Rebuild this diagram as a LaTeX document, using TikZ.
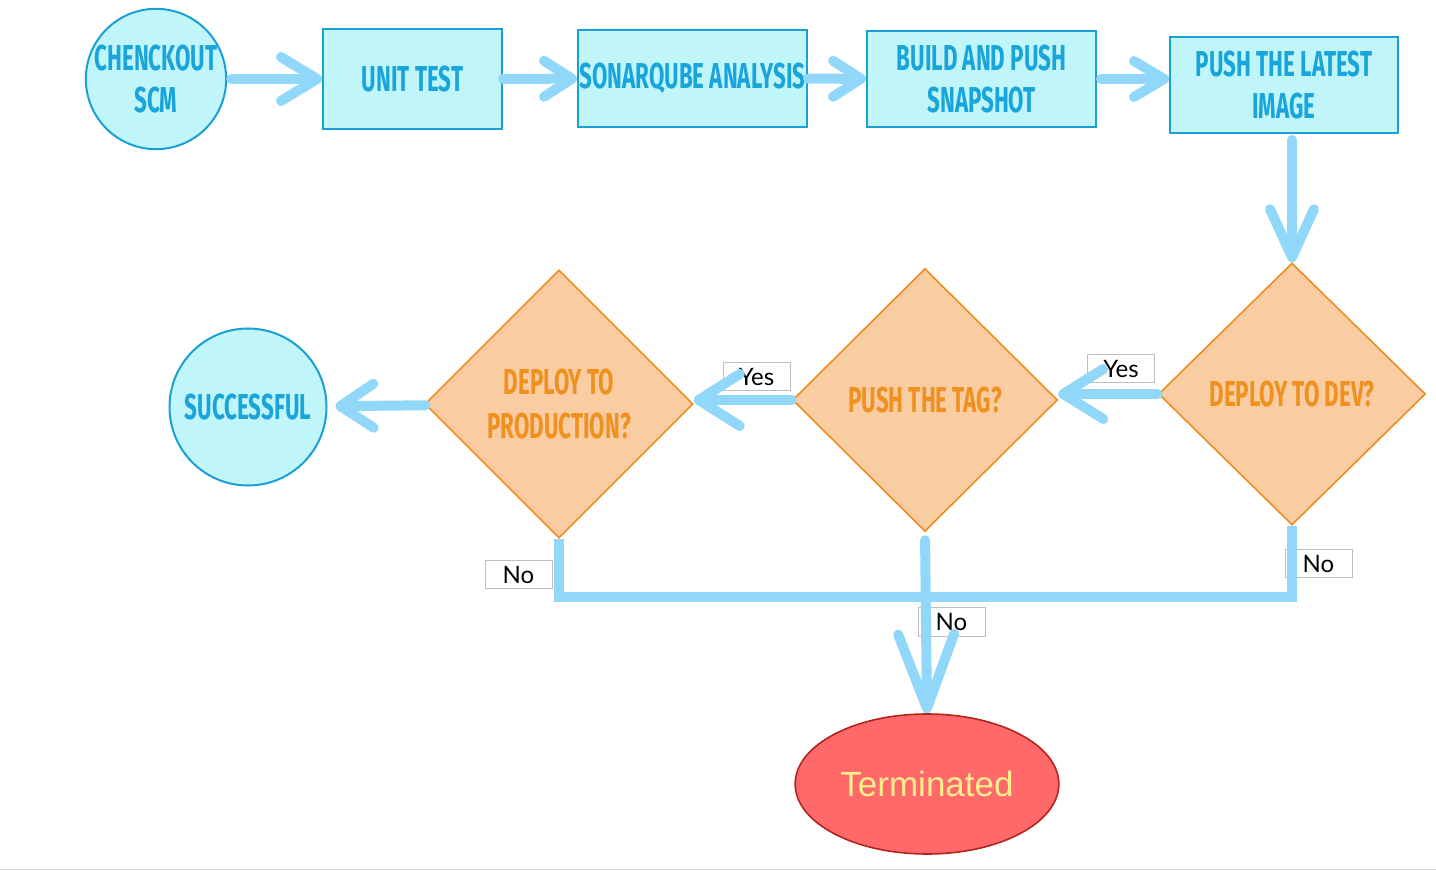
\documentclass[tikz,border=0pt]{standalone}
\usepackage{fontspec}
\usetikzlibrary{shapes.geometric,arrows.meta}

\newfontfamily\capsfont[FakeStretch=0.62]{Fira Sans}
\newfontfamily\tagfont{Lato}
\newfontfamily\endfont{Liberation Sans}

\tikzset{
  stepbox/.style={draw={rgb, 255:red, 27; green, 160; blue, 214}, line width=1pt,
    fill={rgb, 255:red, 192; green, 245; blue, 250}, text={rgb, 255:red, 25; green, 165; blue, 220},
    font=\capsfont\bfseries\fontsize{18}{21}\selectfont, align=center, inner sep=0pt},
  decision/.style={diamond, draw={rgb, 255:red, 240; green, 140; blue, 30}, line width=0.8pt,
    fill={rgb, 255:red, 250; green, 204; blue, 162}, text={rgb, 255:red, 240; green, 144; blue, 30},
    font=\capsfont\bfseries\fontsize{18}{22}\selectfont, align=center, inner sep=0pt},
  answer/.style={draw={rgb, 255:red, 190; green, 190; blue, 190}, line width=0.5pt, fill=white,
    minimum width=33.5pt, minimum height=14pt, inner sep=0pt, font=\tagfont\fontsize{12}{12}\selectfont},
  flow/.style={draw={rgb, 255:red, 145; green, 215; blue, 250}, line width=5pt},
}

\begin{document}
\begin{tikzpicture}[x=0.5pt,y=0.5pt,yscale=-1,xscale=1]
\useasboundingbox (0,0) rectangle (1436,871);

% page edge
\draw [draw={rgb, 255:red, 212; green, 218; blue, 226}] (0,869) -- (1436,869);

% first row
\node [stepbox, circle, minimum size=67pt] (scm) at (156,79) {CHENCKOUT\\SCM};
\node [stepbox, minimum width=89.5pt, minimum height=50pt] (unit) at (412.5,79) {UNIT TEST};
\node [stepbox, minimum width=114.5pt, minimum height=48.5pt] (sonar) at (692.5,78.5) {SONARQUBE ANALYSIS};
\node [stepbox, minimum width=114.5pt, minimum height=48pt] (snap) at (981.5,79) {BUILD AND PUSH\\SNAPSHOT};
\node [stepbox, minimum width=114pt, minimum height=48pt] (latest) at (1284,85) {PUSH THE LATEST\\IMAGE};

% decisions
\node [decision, minimum width=133.5pt, minimum height=131pt] (dev) at (1292,394) {DEPLOY TO DEV?};
\node [decision, minimum width=132.5pt, minimum height=131.5pt] (tag) at (925,400) {PUSH THE TAG?};
\node [decision, minimum width=134pt, minimum height=134pt] (prod) at (559,404) {DEPLOY TO\\PRODUCTION?};

% ends
\node [stepbox, circle, minimum size=78.5pt] (done) at (248,407) {SUCCESSFUL};
\node [ellipse, draw={rgb, 255:red, 180; green, 35; blue, 30}, line width=0.8pt,
  fill={rgb, 255:red, 255; green, 105; blue, 105}, text={rgb, 255:red, 255; green, 238; blue, 140},
  minimum width=131pt, minimum height=70pt, font=\endfont\fontsize{17.5}{17.5}\selectfont] (term) at (927,784) {Terminated};

% Yes / No labels
\node [answer] (yesdev) at (1121,369) {Yes};
\node [answer] (yestag) at (756.5,377) {Yes};
\node [answer] (noprod) at (518.5,575) {No};
\node [answer] (notag) at (951.5,622) {No};
\node [answer] (nodev) at (1318.5,564) {No};

\coordinate (join) at (925,597);

% connectors
\draw [flow, line cap=round, -{Straight Barb[length=18pt,width=22pt,round]}, shorten <=2pt] (scm) -- (unit);
\draw [flow, line cap=round, -{Straight Barb[length=14pt,width=18pt,round]}] (unit) -- (sonar);
\draw [flow, line cap=round, -{Straight Barb[length=14pt,width=18pt,round]}] (sonar) -- (snap);
\draw [flow, line cap=round, -{Straight Barb[length=15pt,width=18pt,round]}, shorten <=2pt] (snap) -- (snap -| latest.west);
\draw [flow, line cap=round, -{Straight Barb[length=24pt,width=22pt,round]}, shorten <=3pt] (latest.south -| dev.north) -- (dev.north);
\draw [flow, line cap=round, -{Straight Barb[length=20pt,width=25pt,round]}] (dev) -- (dev -| tag.east);
\draw [flow, line cap=round, -{Straight Barb[length=20.5pt,width=26pt,round]}] (tag.west) -- (tag.west -| prod.east);
\draw [flow, line cap=round, -{Straight Barb[length=16.5pt,width=22pt,round]}, shorten >=4pt] (prod) -- (done);
\draw [flow] (prod.south) |- (join);
\draw [flow] (dev.south) |- (join);
\draw [flow, line cap=round, -{Straight Barb[length=37pt,width=28pt,round]}, shorten <=4pt] (tag.south) -- (term.north);

\end{tikzpicture}
\end{document}
